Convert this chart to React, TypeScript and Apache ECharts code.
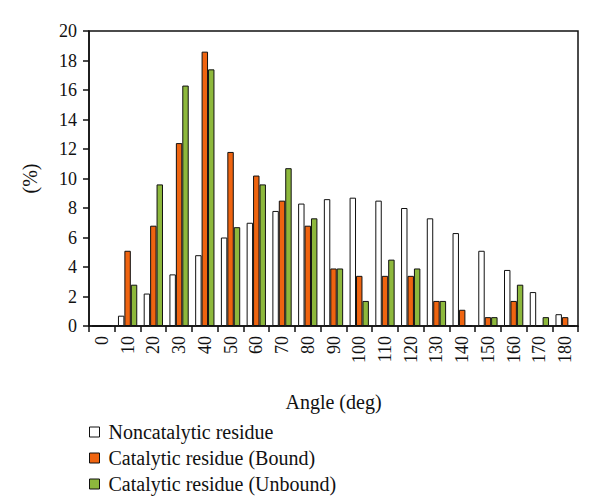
import React, { useEffect, useRef } from "react";
import * as echarts from "echarts";

const categories = ["0","10","20","30","40","50","60","70","80","90","100","110","120","130","140","150","160","170","180"];
const noncatalytic = [0, 0.7, 2.2, 3.5, 4.8, 6.0, 7.0, 7.8, 8.3, 8.6, 8.7, 8.5, 8.0, 7.3, 6.3, 5.1, 3.8, 2.3, 0.8];
const bound = [0, 5.1, 6.8, 12.4, 18.6, 11.8, 10.2, 8.5, 6.8, 3.9, 3.4, 3.4, 3.4, 1.7, 1.1, 0.6, 1.7, 0, 0.6];
const unbound = [0, 2.8, 9.6, 16.3, 17.4, 6.7, 9.6, 10.7, 7.3, 3.9, 1.7, 4.5, 3.9, 1.7, 0, 0.6, 2.8, 0.6, 0];
const seriesNames = ["Noncatalytic residue", "Catalytic residue (Bound)", "Catalytic residue (Unbound)"];

const FONT = "Liberation Serif";

export default function App() {
  const ref = useRef<HTMLDivElement>(null);
  useEffect(() => {
    if (!ref.current) return;
    const chart = echarts.init(ref.current, undefined, { renderer: "svg" });
    const mk = (name: string, data: number[], color: string) => ({
      name,
      type: "bar",
      data,
      barGap: "0%",
      barCategoryGap: "25%",
      itemStyle: { color, borderColor: "#111", borderWidth: 1 },
    });
    chart.setOption({
      animation: false,
      backgroundColor: "#fff",
      textStyle: { fontFamily: FONT },
      grid: { left: 89, right: 22, top: 31, bottom: 176, show: true, borderColor: "#111", borderWidth: 1.5 },
      legend: {
        orient: "vertical",
        left: 84,
        top: 417,
        height: 84,
        icon: "rect",
        itemWidth: 10,
        itemHeight: 10,
        itemGap: 6,
        textStyle: { fontFamily: FONT, fontSize: 20, color: "#111", padding: [0, 0, 0, 4] },
        data: seriesNames.map((n) => ({ name: n, itemStyle: { borderColor: "#111", borderWidth: 1 } })),
      },
      xAxis: {
        type: "category",
        data: categories,
        name: "Angle (deg)",
        nameLocation: "middle",
        nameGap: 66,
        nameTextStyle: { fontFamily: FONT, fontSize: 20, color: "#111" },
        axisLine: { lineStyle: { color: "#111", width: 1.5 } },
        axisTick: { show: true, length: 6, lineStyle: { color: "#111", width: 1.5 } },
        axisLabel: { rotate: 90, fontFamily: FONT, fontSize: 18, color: "#111", margin: 10 },
      },
      yAxis: {
        type: "value",
        min: 0,
        max: 20,
        interval: 2,
        name: "(%)",
        nameLocation: "middle",
        nameGap: 49,
        nameTextStyle: { fontFamily: FONT, fontSize: 20, color: "#111" },
        axisLine: { show: true, lineStyle: { color: "#111", width: 1.5 } },
        axisTick: { show: true, length: 6, lineStyle: { color: "#111", width: 1.5 } },
        axisLabel: { fontFamily: FONT, fontSize: 18, color: "#111", margin: 12 },
        splitLine: { show: false },
      },
      series: [
        mk(seriesNames[0], noncatalytic, "#ffffff"),
        mk(seriesNames[1], bound, "#EF6410"),
        mk(seriesNames[2], unbound, "#8DB83C"),
      ],
    });
    return () => chart.dispose();
  }, []);
  return <div ref={ref} style={{ position: "absolute", left: 0, top: 0, width: 600, height: 502 }} />;
}
